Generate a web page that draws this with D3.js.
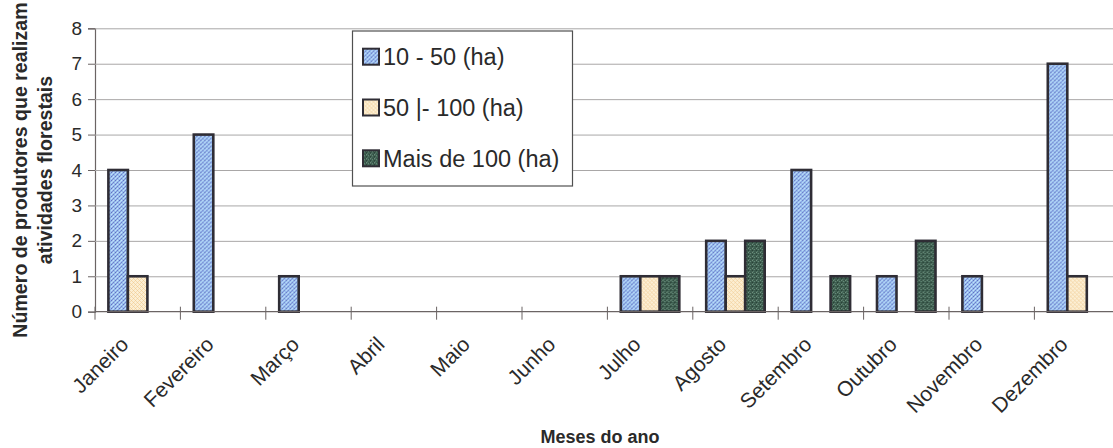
<!DOCTYPE html>
<html>
<head>
<meta charset="utf-8">
<script src="https://cdn.jsdelivr.net/npm/d3@7"></script>
<style>
  html, body { margin: 0; padding: 0; background: #ffffff; }
  svg { display: block; font-family: "Liberation Sans", Arial, sans-serif; }
</style>
</head>
<body>
<svg id="chart" width="1113" height="448"></svg>
<script>
// Months of the year (category axis)
const months = ["Janeiro", "Fevereiro", "Março", "Abril", "Maio", "Junho",
                "Julho", "Agosto", "Setembro", "Outubro", "Novembro", "Dezembro"];

// Property size classes (series)
const seriesNames = ["10 - 50 (ha)", "50 |- 100 (ha)", "Mais de 100 (ha)"];

// Number of producers carrying out forestry activities, per month
const small  = [4, 5, 1, 0, 0, 0, 1, 2, 4, 1, 1, 7];
const medium = [1, 0, 0, 0, 0, 0, 1, 1, 0, 0, 0, 1];
const large  = [0, 0, 0, 0, 0, 0, 1, 2, 1, 2, 0, 0];

const yTicks = [0, 1, 2, 3, 4, 5, 6, 7, 8];

const yTitle = ["Número de produtores que realizam", "atividades florestais"];
const xTitle = "Meses do ano";

const values = [small, medium, large];
const data = months.map((m, i) => ({
  month: m,
  vals: seriesNames.map((s, k) => ({ key: s, k: k, v: values[k][i] }))
}));

const svg = d3.select("#chart");
const W = 1113, H = 448;
const plot = { left: 95, top: 28.3, bottom: 311.7, band: 85.4 };

const defs = svg.append("defs");

// Textured fills for the three series
function pattern(id, bg, dots) {
  const p = defs.append("pattern").attr("id", id)
    .attr("patternUnits", "userSpaceOnUse").attr("width", 4).attr("height", 4);
  p.append("rect").attr("width", 4).attr("height", 4).attr("fill", bg);
  dots.forEach(d => p.append("rect").attr("x", d[0]).attr("y", d[1])
    .attr("width", 1).attr("height", 1).attr("fill", d[2]));
}
pattern("pBlue", "#98bfee", [
  [0, 0, "#6470c0"], [2, 2, "#707ecb"], [2, 0, "#c6e2fb"],
  [0, 2, "#c0dff9"], [1, 3, "#7d8fd4"], [3, 1, "#86a2e0"], [1, 1, "#b2d4f6"]
]);
pattern("pTan", "#fcefd4", [
  [0, 0, "#f1cf9a"], [1, 1, "#f4d8aa"], [2, 2, "#f1cf9a"],
  [3, 3, "#f4d8aa"], [3, 1, "#f6dcb2"], [1, 3, "#f6dcb2"]
]);
pattern("pGreen", "#3e5e50", [
  [1, 1, "#6e9380"], [3, 2, "#233a30"], [0, 3, "#5d8070"],
  [2, 0, "#2c463a"], [3, 0, "#7a9c8a"]
]);
const fills = ["url(#pBlue)", "url(#pTan)", "url(#pGreen)"];

// Scales
const x0 = d3.scaleBand().domain(months)
  .range([plot.left, plot.left + plot.band * months.length]).padding(0);
const x1 = d3.scaleBand().domain(seriesNames)
  .range([13.4, 13.4 + 58.5]).padding(0);
const y = d3.scaleLinear().domain([0, 8]).range([plot.bottom, plot.top]);

// Horizontal gridlines with left ticks
const yAxis = d3.axisLeft(y).tickValues(yTicks).tickSize(7).tickPadding(6)
  .tickFormat(d3.format("d"));
const gy = svg.append("g").attr("transform", `translate(${plot.left},0)`).call(yAxis);
gy.select(".domain").attr("stroke", "#6b6464").attr("stroke-width", 1.2);
gy.selectAll(".tick line").attr("stroke", "#6b6464");
gy.selectAll(".tick text").attr("font-size", 19).attr("fill", "#2a2a2a")
  .attr("font-family", "'Liberation Sans', Arial, sans-serif");
gy.selectAll(".tick").filter(d => d > 0).append("line")
  .attr("x1", 0).attr("x2", W).attr("stroke", "#a9a7a7").attr("stroke-width", 1);

// Bars
const groups = svg.append("g").selectAll("g").data(data).join("g")
  .attr("transform", d => `translate(${x0(d.month)},0)`);
groups.selectAll("rect").data(d => d.vals.filter(v => v.v > 0)).join("rect")
  .attr("x", d => x1(d.key))
  .attr("y", d => y(d.v))
  .attr("width", x1.bandwidth())
  .attr("height", d => y(0) - y(d.v))
  .attr("fill", d => fills[d.k])
  .attr("stroke", "#2f2d35").attr("stroke-width", 2.6);

// Category axis with crossing tick marks at the boundaries
const gx = svg.append("g");
gx.append("line").attr("x1", plot.left).attr("x2", W)
  .attr("y1", y(0)).attr("y2", y(0)).attr("stroke", "#6b6464").attr("stroke-width", 1.3);
gx.selectAll("line.tk").data(months).join("line").attr("class", "tk")
  .attr("x1", d => x0(d)).attr("x2", d => x0(d))
  .attr("y1", y(0) - 5).attr("y2", y(0) + 8).attr("stroke", "#6b6464");
gx.selectAll("text").data(months).join("text")
  .attr("transform", d => `translate(${x0(d) + x0.bandwidth() / 2 - 8},${y(0) + 34}) rotate(-45)`)
  .attr("text-anchor", "end")
  .attr("font-size", 21).attr("fill", "#2a2a2a")
  .text(d => d);

// Axis titles
svg.append("text")
  .attr("transform", `translate(0,${(plot.top + plot.bottom) / 2}) rotate(-90)`)
  .attr("text-anchor", "middle").attr("font-weight", "bold").attr("font-size", 19.6)
  .attr("fill", "#2a2a2a")
  .selectAll("tspan").data(yTitle).join("tspan")
  .attr("x", 0).attr("y", (d, i) => 27 + i * 25).text(d => d);

svg.append("text").attr("x", 600).attr("y", 443)
  .attr("text-anchor", "middle").attr("font-weight", "bold").attr("font-size", 18)
  .attr("fill", "#2a2a2a").text(xTitle);

// Legend
const lg = svg.append("g");
lg.append("rect").attr("x", 352.5).attr("y", 31).attr("width", 220).attr("height", 155)
  .attr("fill", "#ffffff").attr("stroke", "#505050").attr("stroke-width", 1.2);
const items = lg.selectAll("g").data(seriesNames).join("g")
  .attr("transform", (d, i) => `translate(363,${56.7 + i * 50.8})`);
items.append("rect").attr("x", 0).attr("y", -8).attr("width", 16).attr("height", 16)
  .attr("fill", (d, i) => fills[i]).attr("stroke", "#2f2d35").attr("stroke-width", 2);
items.append("text").attr("x", 20).attr("y", 0).attr("dy", "0.36em")
  .attr("font-size", 23.5).attr("fill", "#2a2a2a").text(d => d);
</script>
</body>
</html>
